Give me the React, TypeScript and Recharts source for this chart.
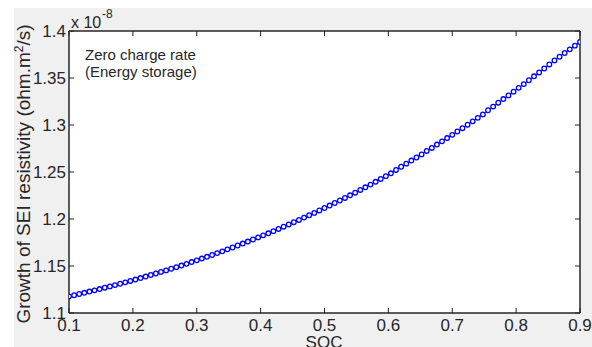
import React from "react";
import { LineChart, Line, XAxis, YAxis, CartesianGrid } from "recharts";

// SOC samples (x) and SEI resistivity growth (in units of 1e-8 ohm.m2/s)
const soc = [
  0.1, 0.108, 0.116, 0.124, 0.132, 0.14, 0.148, 0.156, 0.164, 0.172,
  0.18, 0.188, 0.196, 0.204, 0.212, 0.22, 0.228, 0.236, 0.244, 0.252,
  0.26, 0.268, 0.276, 0.284, 0.292, 0.3, 0.308, 0.316, 0.324, 0.332,
  0.34, 0.348, 0.356, 0.364, 0.372, 0.38, 0.388, 0.396, 0.404, 0.412,
  0.42, 0.428, 0.436, 0.444, 0.452, 0.46, 0.468, 0.476, 0.484, 0.492,
  0.5, 0.508, 0.516, 0.524, 0.532, 0.54, 0.548, 0.556, 0.564, 0.572,
  0.58, 0.588, 0.596, 0.604, 0.612, 0.62, 0.628, 0.636, 0.644, 0.652,
  0.66, 0.668, 0.676, 0.684, 0.692, 0.7, 0.708, 0.716, 0.724, 0.732,
  0.74, 0.748, 0.756, 0.764, 0.772, 0.78, 0.788, 0.796, 0.804, 0.812,
  0.82, 0.828, 0.836, 0.844, 0.852, 0.86, 0.868, 0.876, 0.884, 0.892,
  0.9,
];

const resistivity = [
  1.1177, 1.1189, 1.1202, 1.1215, 1.1228, 1.1241, 1.1255, 1.1269, 1.1283, 1.1297,
  1.1311, 1.1326, 1.1341, 1.1356, 1.1372, 1.1388, 1.1404, 1.142, 1.1437, 1.1453,
  1.1471, 1.1488, 1.1505, 1.1523, 1.1542, 1.156, 1.1579, 1.1598, 1.1617, 1.1637,
  1.1656, 1.1677, 1.1697, 1.1718, 1.1739, 1.176, 1.1782, 1.1804, 1.1826, 1.1848,
  1.1871, 1.1894, 1.1918, 1.1942, 1.1966, 1.199, 1.2015, 1.204, 1.2065, 1.2091,
  1.2117, 1.2143, 1.217, 1.2197, 1.2224, 1.2252, 1.228, 1.2309, 1.2337, 1.2366,
  1.2396, 1.2426, 1.2456, 1.2486, 1.2522, 1.2556, 1.2589, 1.2622, 1.2654, 1.2687,
  1.2724, 1.2756, 1.2792, 1.2826, 1.2861, 1.2895, 1.2931, 1.2966, 1.3003, 1.3039,
  1.3076, 1.3113, 1.3157, 1.3196, 1.3237, 1.3276, 1.3315, 1.3355, 1.3395, 1.3435,
  1.3476, 1.3518, 1.3559, 1.3601, 1.3644, 1.3687, 1.3726, 1.3766, 1.3805, 1.3844,
  1.3883,
];

const xTicks = [0.1, 0.2, 0.3, 0.4, 0.5, 0.6, 0.7, 0.8, 0.9];
const yTicks = [1.1, 1.15, 1.2, 1.25, 1.3, 1.35, 1.4];

const data = soc.map((s, i) => ({ soc: s, r: resistivity[i] }));

const INK = "#262626";
const FONT = "'Liberation Sans', Arial, sans-serif";

const BottomTick = (props: any) => {
  const { x, y, payload } = props;
  return (
    <g>
      <line x1={x} x2={x} y1={y} y2={y - 5} stroke={INK} strokeWidth={1} />
      <text x={x} y={y + 18} textAnchor="middle" fontSize={17} fill={INK} fontFamily={FONT}>
        {payload.value}
      </text>
    </g>
  );
};

const TopTick = (props: any) => {
  const { x, y } = props;
  return <line x1={x} x2={x} y1={y} y2={y + 5} stroke={INK} strokeWidth={1} />;
};

const LeftTick = (props: any) => {
  const { x, y, payload } = props;
  return (
    <g>
      <line x1={x} x2={x + 5} y1={y} y2={y} stroke={INK} strokeWidth={1} />
      <text x={x - 3} y={y} dy="0.36em" textAnchor="end" fontSize={17} fill={INK} fontFamily={FONT}>
        {payload.value}
      </text>
    </g>
  );
};

const RightTick = (props: any) => {
  const { x, y } = props;
  return <line x1={x} x2={x - 5} y1={y} y2={y} stroke={INK} strokeWidth={1} />;
};

const axisLine = { stroke: INK, strokeWidth: 1.5 };

export default function App() {
  return (
    <div style={{ position: "relative", width: 592, height: 347, background: "#fff", overflow: "hidden" }}>
      <style>{"body{margin:0;overflow:hidden}"}</style>
      <div style={{ position: "absolute", left: 14, top: 8, width: 578, height: 339, background: "#f0f0f0" }}>
        <LineChart
          width={578}
          height={339}
          data={data}
          margin={{ top: 22, right: 11, bottom: 33, left: 0 }}
        >
          <CartesianGrid horizontal={false} vertical={false} fill="#ffffff" stroke="none" />
          <XAxis
            dataKey="soc"
            type="number"
            domain={[0.1, 0.9]}
            ticks={xTicks}
            allowDataOverflow
            height={1}
            tickSize={0}
            tickMargin={0}
            tickLine={false}
            axisLine={axisLine}
            tick={<BottomTick />}
            interval={0}
          />
          <XAxis
            xAxisId="top"
            orientation="top"
            dataKey="soc"
            type="number"
            domain={[0.1, 0.9]}
            ticks={xTicks}
            allowDataOverflow
            height={1}
            tickSize={0}
            tickMargin={0}
            tickLine={false}
            axisLine={axisLine}
            tick={<TopTick />}
            interval={0}
          />
          <YAxis
            type="number"
            domain={[1.1, 1.4]}
            ticks={yTicks}
            allowDataOverflow
            width={55}
            tickSize={0}
            tickMargin={0}
            tickLine={false}
            axisLine={axisLine}
            tick={<LeftTick />}
            interval={0}
          />
          <YAxis
            yAxisId="right"
            orientation="right"
            type="number"
            domain={[1.1, 1.4]}
            ticks={yTicks}
            allowDataOverflow
            width={1}
            tickSize={0}
            tickMargin={0}
            tickLine={false}
            axisLine={axisLine}
            tick={<RightTick />}
            interval={0}
          />
          <Line
            type="linear"
            dataKey="r"
            stroke="#0000ff"
            strokeWidth={1}
            dot={{ r: 2.3, stroke: "#0000ff", strokeWidth: 1.3, fill: "#ffffff" }}
            activeDot={false}
            isAnimationActive={false}
          />
        </LineChart>
        <svg
          width={578}
          height={339}
          style={{ position: "absolute", left: 0, top: 0, pointerEvents: "none" }}
          fontFamily={FONT}
          fill={INK}
        >
          <text x={57} y={20} fontSize={16}>x 10</text>
          <text x={88} y={10} fontSize={12}>-8</text>
          <text x={71} y={52} fontSize={15}>Zero charge rate</text>
          <text x={71} y={69} fontSize={15}>(Energy storage)</text>
          <text x={310} y={340} fontSize={17} textAnchor="middle">SOC</text>
          <text x={16} y={166} fontSize={19} textAnchor="middle" transform="rotate(-90 16 166)">
            Growth of SEI resistivity (ohm.m
            <tspan dy={-7} fontSize={12}>2</tspan>
            <tspan dy={7}>/s)</tspan>
          </text>
        </svg>
      </div>
    </div>
  );
}
